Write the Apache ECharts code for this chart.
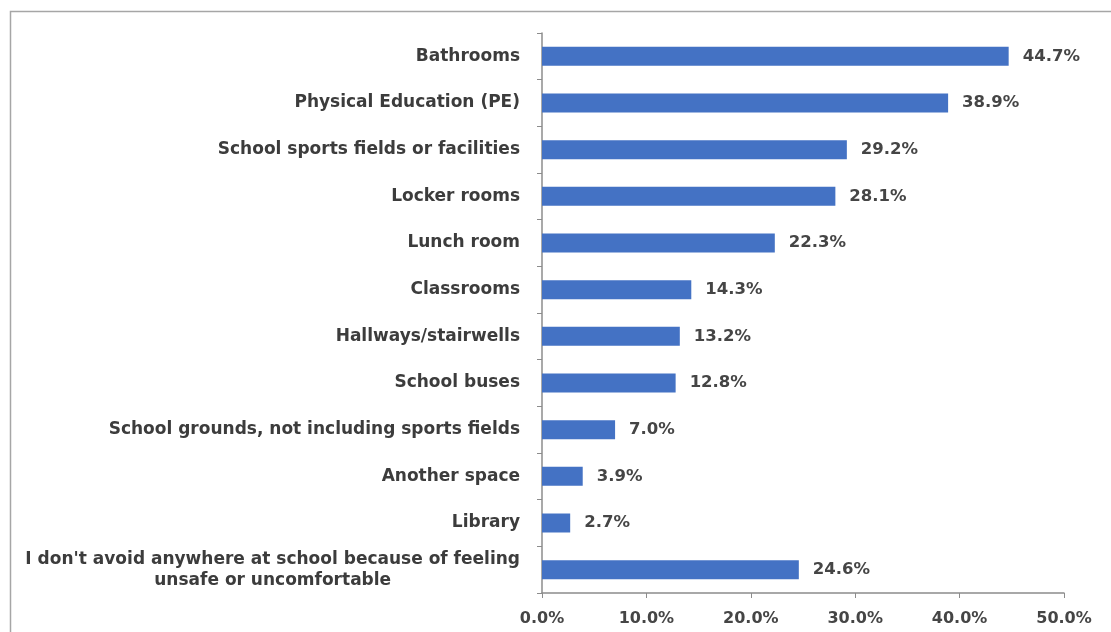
<!DOCTYPE html>
<html>
<head>
<meta charset="utf-8">
<script src="https://cdn.jsdelivr.net/npm/echarts@6/dist/echarts.min.js"></script>
<style>
  html, body { margin: 0; padding: 0; background: #fff; }
  #chart { width: 1111px; height: 632px; }
</style>
</head>
<body>
<div id="chart"></div>
<script>
const places = [
  'Bathrooms',
  'Physical Education (PE)',
  'School sports fields or facilities',
  'Locker rooms',
  'Lunch room',
  'Classrooms',
  'Hallways/stairwells',
  'School buses',
  'School grounds, not including sports fields',
  'Another space',
  'Library',
  "I don't avoid anywhere at school because of feeling\nunsafe or uncomfortable"
]
const shares = [44.7, 38.9, 29.2, 28.1, 22.3, 14.3, 13.2, 12.8, 7.0, 3.9, 2.7, 24.6]
const xTicks = [0, 10, 20, 30, 40, 50]

const font = '"DejaVu Sans", sans-serif'
const chart = echarts.init(document.getElementById('chart'))

chart.setOption({
  animation: false,
  graphic: [{
    type: 'rect',
    shape: { x: 10.5, y: 11.5, width: 1200, height: 700 },
    style: { fill: 'none', stroke: '#a6a6a6', lineWidth: 1.5 },
    silent: true
  }],
  grid: { left: 542, right: 47, top: 33, bottom: 39 },
  xAxis: {
    type: 'value',
    min: xTicks[0],
    max: xTicks[xTicks.length - 1],
    interval: 10,
    splitLine: { show: false },
    axisLine: { show: true, lineStyle: { color: '#8c8c8c', width: 1.5 } },
    axisTick: { show: true, length: 5, lineStyle: { color: '#8c8c8c' } },
    axisLabel: {
      color: '#454545',
      fontFamily: font,
      fontWeight: 'bold',
      fontSize: 16,
      margin: 18,
      formatter: (v) => v.toFixed(1) + '%'
    }
  },
  yAxis: {
    type: 'category',
    data: places,
    inverse: true,
    axisLine: { show: true, lineStyle: { color: '#8c8c8c', width: 1.5 } },
    axisTick: { show: true, length: 5, lineStyle: { color: '#8c8c8c' } },
    axisLabel: {
      color: '#3c3c3c',
      fontFamily: font,
      fontWeight: 'bold',
      fontSize: 17,
      margin: 22,
      lineHeight: 21,
      formatter: (v) => v.split('\n').map((s) => '{c|' + s + '}').join('\n'),
      rich: {
        c: { align: 'center', color: '#3c3c3c', fontFamily: font, fontWeight: 'bold', fontSize: 17, lineHeight: 21 }
      }
    }
  },
  series: [{
    type: 'bar',
    data: shares,
    barWidth: 19,
    itemStyle: { color: '#4472c4' },
    label: {
      show: true,
      position: 'right',
      distance: 14,
      color: '#454545',
      fontFamily: font,
      fontWeight: 'bold',
      fontSize: 16.5,
      formatter: ({ value }) => value.toFixed(1) + '%'
    }
  }]
})
</script>
</body>
</html>
